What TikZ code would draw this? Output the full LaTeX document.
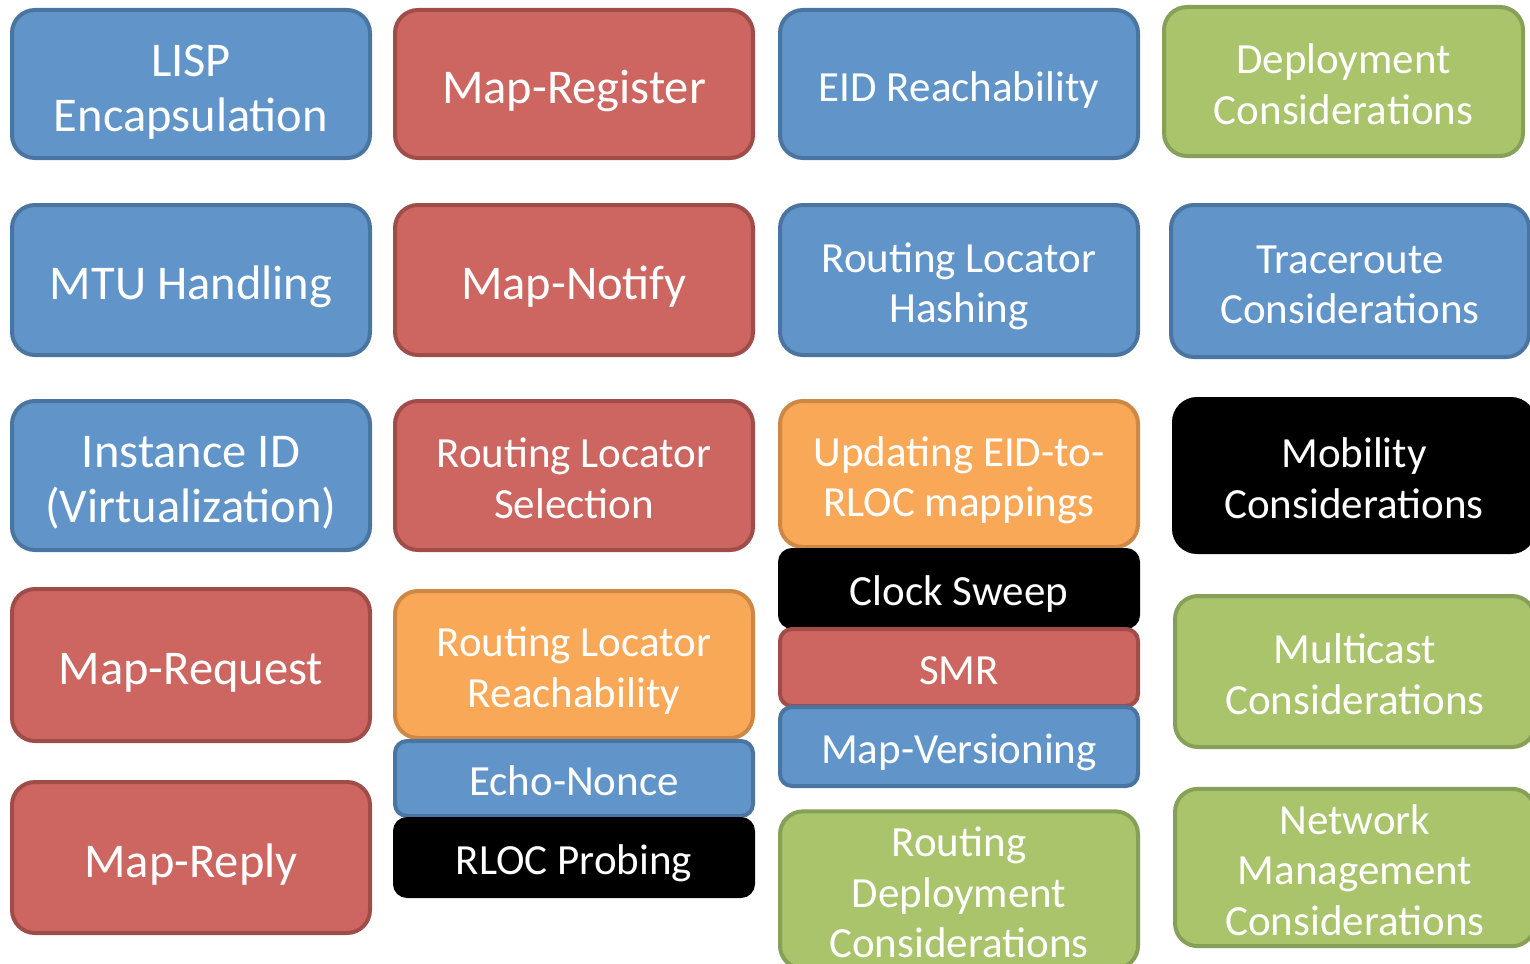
\documentclass[tikz,border=0pt]{standalone}
\usepackage{fontspec}
\setmainfont{Carlito}
\newcommand\mystrut{\rule[-0.25em]{0pt}{1.31em}}
\definecolor{bfill}{RGB}{97,149,201}
\definecolor{bline}{RGB}{74,117,160}
\definecolor{rfill}{RGB}{205,102,96}
\definecolor{rline}{RGB}{160,77,74}
\definecolor{gfill}{RGB}{170,196,108}
\definecolor{gline}{RGB}{134,160,88}
\definecolor{ofill}{RGB}{249,168,87}
\definecolor{oline}{RGB}{204,136,68}
\tikzset{
  box/.style={rectangle, rounded corners=23pt, line width=4pt, inner sep=0pt,
    minimum width=358pt, minimum height=148pt, align=center, text=white,
    font=\fontsize{43}{50.5}\selectfont,
    execute at begin node={\lineskiplimit=-1000pt\lineskip=0pt}},
  thin/.style={rounded corners=12pt},
  big/.style={font=\fontsize{48.5}{55}\selectfont},
  bluebox/.style={box, draw=bline, fill=bfill},
  redbox/.style={box, draw=rline, fill=rfill},
  greenbox/.style={box, draw=gline, fill=gfill},
  orangebox/.style={box, draw=oline, fill=ofill},
  blackbox/.style={box, draw=black, fill=black},
}
\begin{document}
\begin{tikzpicture}[x=1pt,y=-1pt]
\useasboundingbox (0,0) rectangle (1530,963);
\clip (0,0) rectangle (1530,963);
% column 1
\node[bluebox, big, minimum height=148pt] (lisp) at (191,84) {\mystrut LISP\\\mystrut Encapsulation};
\node[bluebox, big, minimum height=150pt] (mtu) at (191,280) {\mystrut MTU Handling};
\node[bluebox, big, minimum height=149pt] (inst) at (191,475.5) {\mystrut Instance ID\\\mystrut (Virtualization)};
\node[redbox, big, minimum height=152pt] (mreq) at (191,665) {\mystrut Map-Request};
\node[redbox, big, minimum height=151pt] (mrep) at (191,857.5) {\mystrut Map-Reply};
% column 2
\node[redbox, big, minimum height=148pt] (mreg) at (574,84) {\mystrut Map-Register};
\node[redbox, big, minimum height=150pt] (mnot) at (574,280) {\mystrut Map-Notify};
\node[redbox, minimum height=149pt] (rls) at (574,475.5) {\mystrut Routing Locator\\\mystrut Selection};
\node[orangebox, minimum height=147pt] (rlr) at (574,664.5) {\mystrut Routing Locator\\\mystrut Reachability};
\node[bluebox, thin, minimum height=75pt] (echo) at (574,778.5) {\mystrut Echo-Nonce};
\node[blackbox, thin, minimum height=77pt] (probe) at (574,857.5) {\mystrut RLOC Probing};
% column 3
\node[bluebox, minimum height=148pt] (eid) at (959,84) {\mystrut EID Reachability};
\node[bluebox, minimum height=150pt] (hash) at (959,280) {\mystrut Routing Locator\\\mystrut Hashing};
\node[orangebox, minimum height=146pt] (upd) at (959,474) {\mystrut Updating EID-to-\\\mystrut RLOC mappings};
\node[blackbox, thin, minimum height=77pt] (clock) at (959,588.5) {\mystrut Clock Sweep};
\node[redbox, thin, minimum height=77pt] (smr) at (959,667.5) {\mystrut SMR};
\node[bluebox, thin, minimum height=79pt] (mver) at (959,746.5) {\mystrut Map-Versioning};
\node[greenbox, minimum height=154pt] (rdep) at (959,890) {\mystrut Routing\\\mystrut Deployment\\\mystrut Considerations};
% column 4
\node[greenbox, minimum width=359pt, minimum height=149pt] (dep) at (1343.5,81.5) {\mystrut Deployment\\\mystrut Considerations};
\node[bluebox, minimum height=152pt] (trace) at (1350,281) {\mystrut Traceroute\\\mystrut Considerations};
\node[blackbox, minimum width=360pt, minimum height=153pt] (mob) at (1354,475.5) {\mystrut Mobility\\\mystrut Considerations};
\node[greenbox, minimum width=360pt, minimum height=151pt] (mcast) at (1355,671.5) {\mystrut Multicast\\\mystrut Considerations};
\node[greenbox, minimum width=360pt, minimum height=151pt] (nm) at (1355,867.5) {\mystrut Network\\\mystrut Management\\\mystrut Considerations};
\end{tikzpicture}
\end{document}
